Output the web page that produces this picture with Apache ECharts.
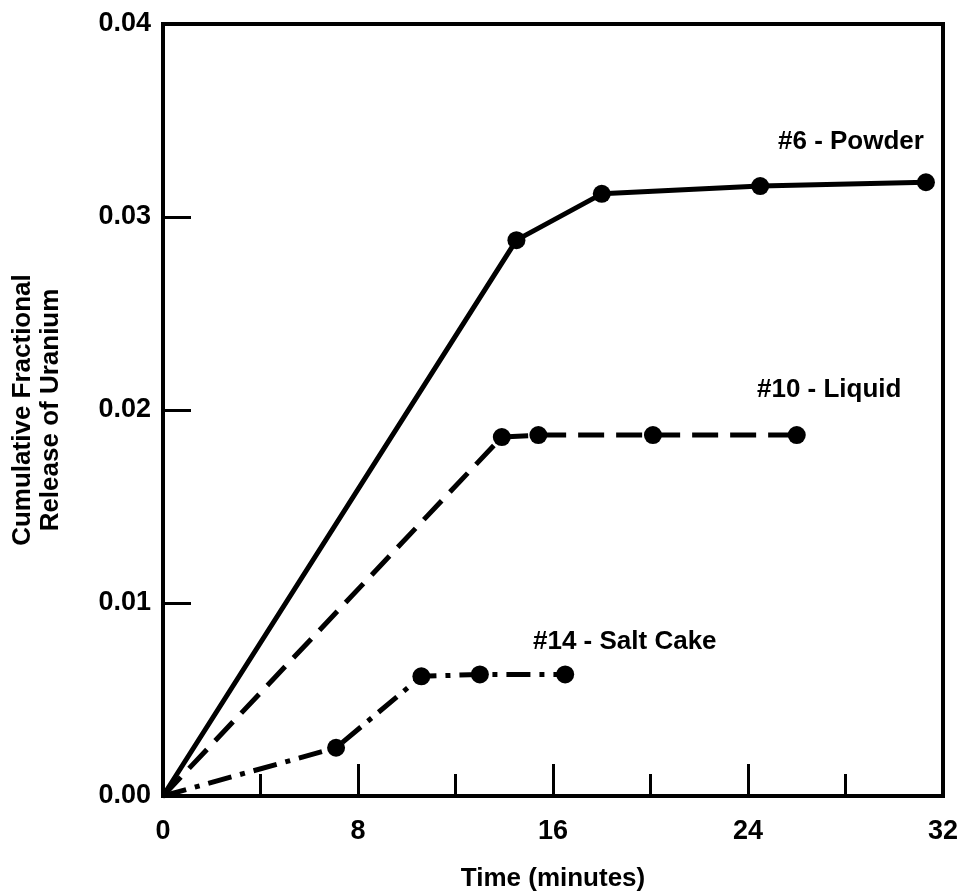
<!DOCTYPE html>
<html>
<head>
<meta charset="utf-8">
<script src="https://cdn.jsdelivr.net/npm/echarts@6/dist/echarts.min.js"></script>
<style>
html,body{margin:0;padding:0;background:#fff;}
#chart{width:960px;height:891px;}
</style>
</head>
<body>
<div id="chart"></div>
<script>
// ---- data ----
var powderTime   = [0, 14.5, 18.0, 24.5, 31.3];
var powderValue  = [0, 0.0288, 0.0312, 0.0316, 0.0318];
var liquidTime   = [0, 13.9, 15.4, 20.1, 26.0];
var liquidValue  = [0, 0.0186, 0.0187, 0.0187, 0.0187];
var saltTime     = [0, 7.1, 10.6, 13.0, 16.5];
var saltValue    = [0, 0.0025, 0.0062, 0.0063, 0.0063];
var seriesNames  = ['#6 - Powder', '#10 - Liquid', '#14 - Salt Cake'];
var xTicks = [0, 8, 16, 24, 32];
var yTicks = [0.00, 0.01, 0.02, 0.03, 0.04];

var FONT = '"Liberation Sans", Arial, Helvetica, sans-serif';

function build(t, v) {
  return t.map(function (x, i) {
    var item = { value: [x, v[i]] };
    if (i === 0) item.symbol = 'none';
    return item;
  });
}

function lineSeries(name, t, v, dash) {
  return {
    name: name,
    type: 'line',
    data: build(t, v),
    symbol: 'circle',
    symbolSize: 18,
    showSymbol: true,
    itemStyle: { color: '#000' },
    lineStyle: { color: '#000', width: 5, type: dash },
    animation: false,
    z: 3
  };
}

var chart = echarts.init(document.getElementById('chart'), null, { renderer: 'canvas' });
chart.setOption({
  backgroundColor: '#fff',
  animation: false,
  grid: {
    left: 163, right: 17, top: 24, bottom: 95,
    containLabel: false,
    outerBoundsMode: 'none',
    show: true, borderColor: '#000', borderWidth: 4
  },
  xAxis: {
    type: 'value',
    min: xTicks[0], max: xTicks[xTicks.length - 1], interval: 8,
    name: 'Time (minutes)',
    nameLocation: 'middle',
    nameGap: 70,
    nameTextStyle: { fontFamily: FONT, fontSize: 26, fontWeight: 'bold', color: '#000' },
    axisLine: { lineStyle: { color: '#000', width: 4 } },
    axisTick: { inside: true, length: 32, lineStyle: { color: '#000', width: 3 } },
    minorTick: { show: true, splitNumber: 2, length: 22, lineStyle: { color: '#000', width: 3 } },
    axisLabel: { margin: 22, fontFamily: FONT, fontSize: 27, fontWeight: 'bold', color: '#000' },
    splitLine: { show: false }
  },
  yAxis: {
    type: 'value',
    min: yTicks[0], max: yTicks[yTicks.length - 1], interval: 0.01,
    name: 'Cumulative Fractional\nRelease of Uranium',
    nameLocation: 'middle',
    nameGap: 98,
    nameTextStyle: { fontFamily: FONT, fontSize: 26, fontWeight: 'bold', color: '#000', lineHeight: 28 },
    axisLine: { lineStyle: { color: '#000', width: 4 } },
    axisTick: { inside: true, length: 28, lineStyle: { color: '#000', width: 3 } },
    axisLabel: {
      margin: 12, fontFamily: FONT, fontSize: 27, fontWeight: 'bold', color: '#000',
      formatter: function (v) { return v.toFixed(2); }
    },
    splitLine: { show: false }
  },
  graphic: [
    { type: 'text', left: 778, top: 129, style: { text: seriesNames[0], font: 'bold 26px ' + FONT, fill: '#000' } },
    { type: 'text', left: 757, top: 377, style: { text: seriesNames[1], font: 'bold 26px ' + FONT, fill: '#000' } },
    { type: 'text', left: 533, top: 629, style: { text: seriesNames[2], font: 'bold 26px ' + FONT, fill: '#000' } }
  ],
  series: [
    lineSeries(seriesNames[0], powderTime, powderValue, 'solid'),
    lineSeries(seriesNames[1], liquidTime, liquidValue, [26, 12]),
    lineSeries(seriesNames[2], saltTime, saltValue, [24, 9, 5, 9])
  ]
});
</script>
</body>
</html>
